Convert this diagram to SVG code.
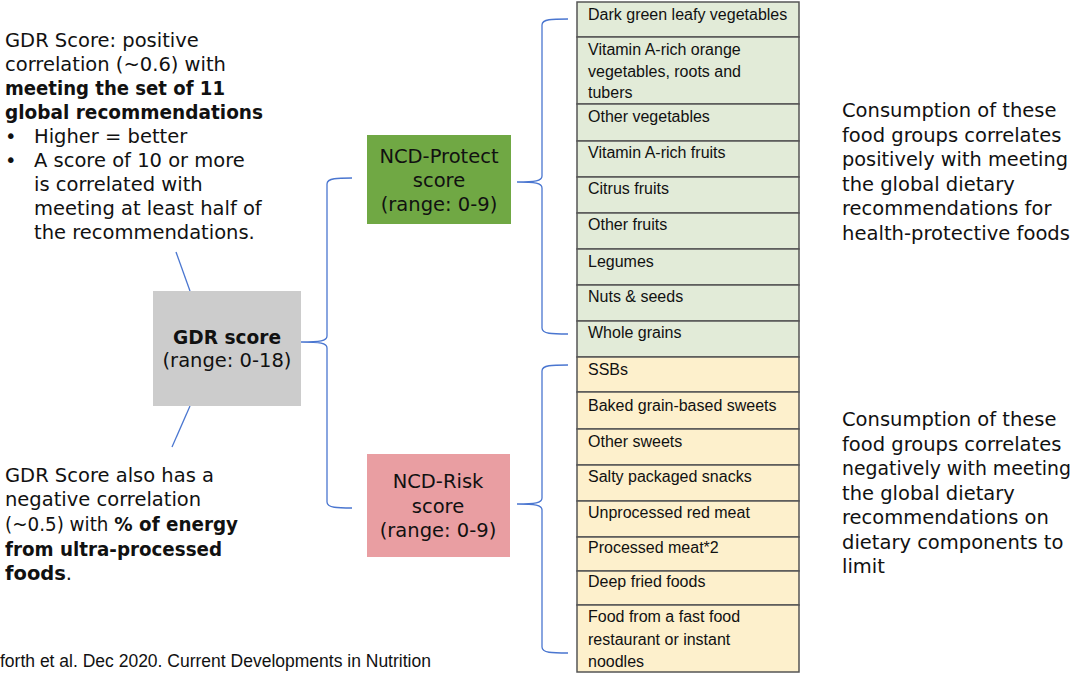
<svg xmlns="http://www.w3.org/2000/svg" width="1082" height="675" viewBox="0 0 1082 675">
<style>
.t{font-family:"DejaVu Sans","Verdana",sans-serif;font-size:19.5px;fill:#111}
.b{font-weight:bold}
.c{text-anchor:middle}
.cell{font-family:"Liberation Sans",Arial,sans-serif;font-size:16px;fill:#111}
.g{fill:#e2ebd8;stroke:#555;stroke-width:1.5}
.y{fill:#fdf0cc;stroke:#555;stroke-width:1.5}
.con{fill:none;stroke:#4a76d0;stroke-width:1.3}
.foot{font-family:"Liberation Sans",Arial,sans-serif;font-size:17.5px;fill:#111}
</style>
<rect width="1082" height="675" fill="#fff"/>

<g id="connectors">
<path class="con" d="M176,252 L190,291"/>
<path class="con" d="M190,406 L172,447"/>
<path class="con" d="M352,178 C338,178 327,178 327,184 L327,336 C327,341 320,342 301,342 C320,342 327,343 327,348 L327,502 C327,508 338,508 352,508"/>
<path class="con" d="M568,19 C552,19 542,19 542,25 L542,176 C542,181 535,182 517,182 C535,182 542,183 542,188 L542,328 C542,334 552,334 568,334"/>
<path class="con" d="M568,365 C552,365 542,365 542,371 L542,498 C542,503 535,504 517,504 C535,504 542,505 542,510 L542,647 C542,653 552,653 568,653"/>
</g>

<g id="note-top">
<text class="t" x="5" y="47">GDR Score: positive</text>
<text class="t" x="5" y="71">correlation (~0.6) with</text>
<text class="t b" x="5" y="95" textLength="220" lengthAdjust="spacingAndGlyphs">meeting the set of 11</text>
<text class="t b" x="5" y="119" textLength="258" lengthAdjust="spacingAndGlyphs">global recommendations</text>
<text class="t" x="5" y="143">•</text>
<text class="t" x="34" y="143">Higher = better</text>
<text class="t" x="5" y="167">•</text>
<text class="t" x="34" y="167">A score of 10 or more</text>
<text class="t" x="34" y="191">is correlated with</text>
<text class="t" x="34" y="215">meeting at least half of</text>
<text class="t" x="34" y="239">the recommendations.</text>
</g>

<g id="note-bottom">
<text class="t" x="5" y="482">GDR Score also has a</text>
<text class="t" x="5" y="506">negative correlation</text>
<text class="t" x="5" y="531" textLength="233" lengthAdjust="spacingAndGlyphs">(~0.5) with <tspan class="b">% of energy</tspan></text>
<text class="t b" x="5" y="556" textLength="217" lengthAdjust="spacingAndGlyphs">from ultra-processed</text>
<text class="t" x="5" y="580"><tspan class="b">foods</tspan>.</text>
</g>

<g id="gdr">
<rect x="153" y="291" width="148" height="115" fill="#cccccc"/>
<text class="t b c" x="227" y="344" textLength="108" lengthAdjust="spacingAndGlyphs">GDR score</text>
<text class="t c" x="227" y="367">(range: 0-18)</text>
</g>

<g id="ncd-protect">
<rect x="367" y="135" width="144" height="89" fill="#70a844"/>
<text class="t c" x="439" y="163">NCD-Protect</text>
<text class="t c" x="439" y="187">score</text>
<text class="t c" x="439" y="211">(range: 0-9)</text>
</g>

<g id="ncd-risk">
<rect x="367" y="454" width="143" height="103" fill="#e99ea2"/>
<text class="t c" x="438" y="488">NCD-Risk</text>
<text class="t c" x="438" y="513">score</text>
<text class="t c" x="438" y="537">(range: 0-9)</text>
</g>

<g id="protect-table">
<rect class="g" x="577" y="2" width="222" height="35"/>
<rect class="g" x="577" y="37" width="222" height="67"/>
<rect class="g" x="577" y="104" width="222" height="37"/>
<rect class="g" x="577" y="141" width="222" height="36"/>
<rect class="g" x="577" y="177" width="222" height="36"/>
<rect class="g" x="577" y="213" width="222" height="36"/>
<rect class="g" x="577" y="249" width="222" height="36"/>
<rect class="g" x="577" y="285" width="222" height="36"/>
<rect class="g" x="577" y="321" width="222" height="36"/>
<text class="cell" x="588" y="20">Dark green leafy vegetables</text>
<text class="cell" x="588" y="55">Vitamin A-rich orange</text>
<text class="cell" x="588" y="77">vegetables, roots and</text>
<text class="cell" x="588" y="98">tubers</text>
<text class="cell" x="588" y="122">Other vegetables</text>
<text class="cell" x="588" y="158">Vitamin A-rich fruits</text>
<text class="cell" x="588" y="194">Citrus fruits</text>
<text class="cell" x="588" y="230">Other fruits</text>
<text class="cell" x="588" y="267">Legumes</text>
<text class="cell" x="588" y="302">Nuts &amp; seeds</text>
<text class="cell" x="588" y="338">Whole grains</text>
</g>

<g id="risk-table">
<rect class="y" x="577" y="357" width="222" height="35"/>
<rect class="y" x="577" y="392" width="222" height="37"/>
<rect class="y" x="577" y="429" width="222" height="36"/>
<rect class="y" x="577" y="465" width="222" height="36"/>
<rect class="y" x="577" y="501" width="222" height="36"/>
<rect class="y" x="577" y="537" width="222" height="34"/>
<rect class="y" x="577" y="571" width="222" height="34"/>
<rect class="y" x="577" y="605" width="222" height="67"/>
<text class="cell" x="588" y="375">SSBs</text>
<text class="cell" x="588" y="411">Baked grain-based sweets</text>
<text class="cell" x="588" y="447">Other sweets</text>
<text class="cell" x="588" y="482">Salty packaged snacks</text>
<text class="cell" x="588" y="518">Unprocessed red meat</text>
<text class="cell" x="588" y="553">Processed meat*2</text>
<text class="cell" x="588" y="587">Deep fried foods</text>
<text class="cell" x="588" y="622">Food from a fast food</text>
<text class="cell" x="588" y="645">restaurant or instant</text>
<text class="cell" x="588" y="667">noodles</text>
</g>

<g id="note-protect">
<text class="t" x="842" y="117">Consumption of these</text>
<text class="t" x="842" y="141.6">food groups correlates</text>
<text class="t" x="842" y="166.2" textLength="226" lengthAdjust="spacingAndGlyphs">positively with meeting</text>
<text class="t" x="842" y="190.8">the global dietary</text>
<text class="t" x="842" y="215.4">recommendations for</text>
<text class="t" x="842" y="240" textLength="228" lengthAdjust="spacingAndGlyphs">health-protective foods</text>
</g>

<g id="note-risk">
<text class="t" x="842" y="426">Consumption of these</text>
<text class="t" x="842" y="450.5">food groups correlates</text>
<text class="t" x="842" y="475" textLength="229" lengthAdjust="spacingAndGlyphs">negatively with meeting</text>
<text class="t" x="842" y="499.5">the global dietary</text>
<text class="t" x="842" y="524">recommendations on</text>
<text class="t" x="842" y="548.5">dietary components to</text>
<text class="t" x="842" y="573">limit</text>
</g>

<g id="citation">
<text class="foot" x="0" y="667">forth et al. Dec 2020. Current Developments in Nutrition</text>
</g>
</svg>
